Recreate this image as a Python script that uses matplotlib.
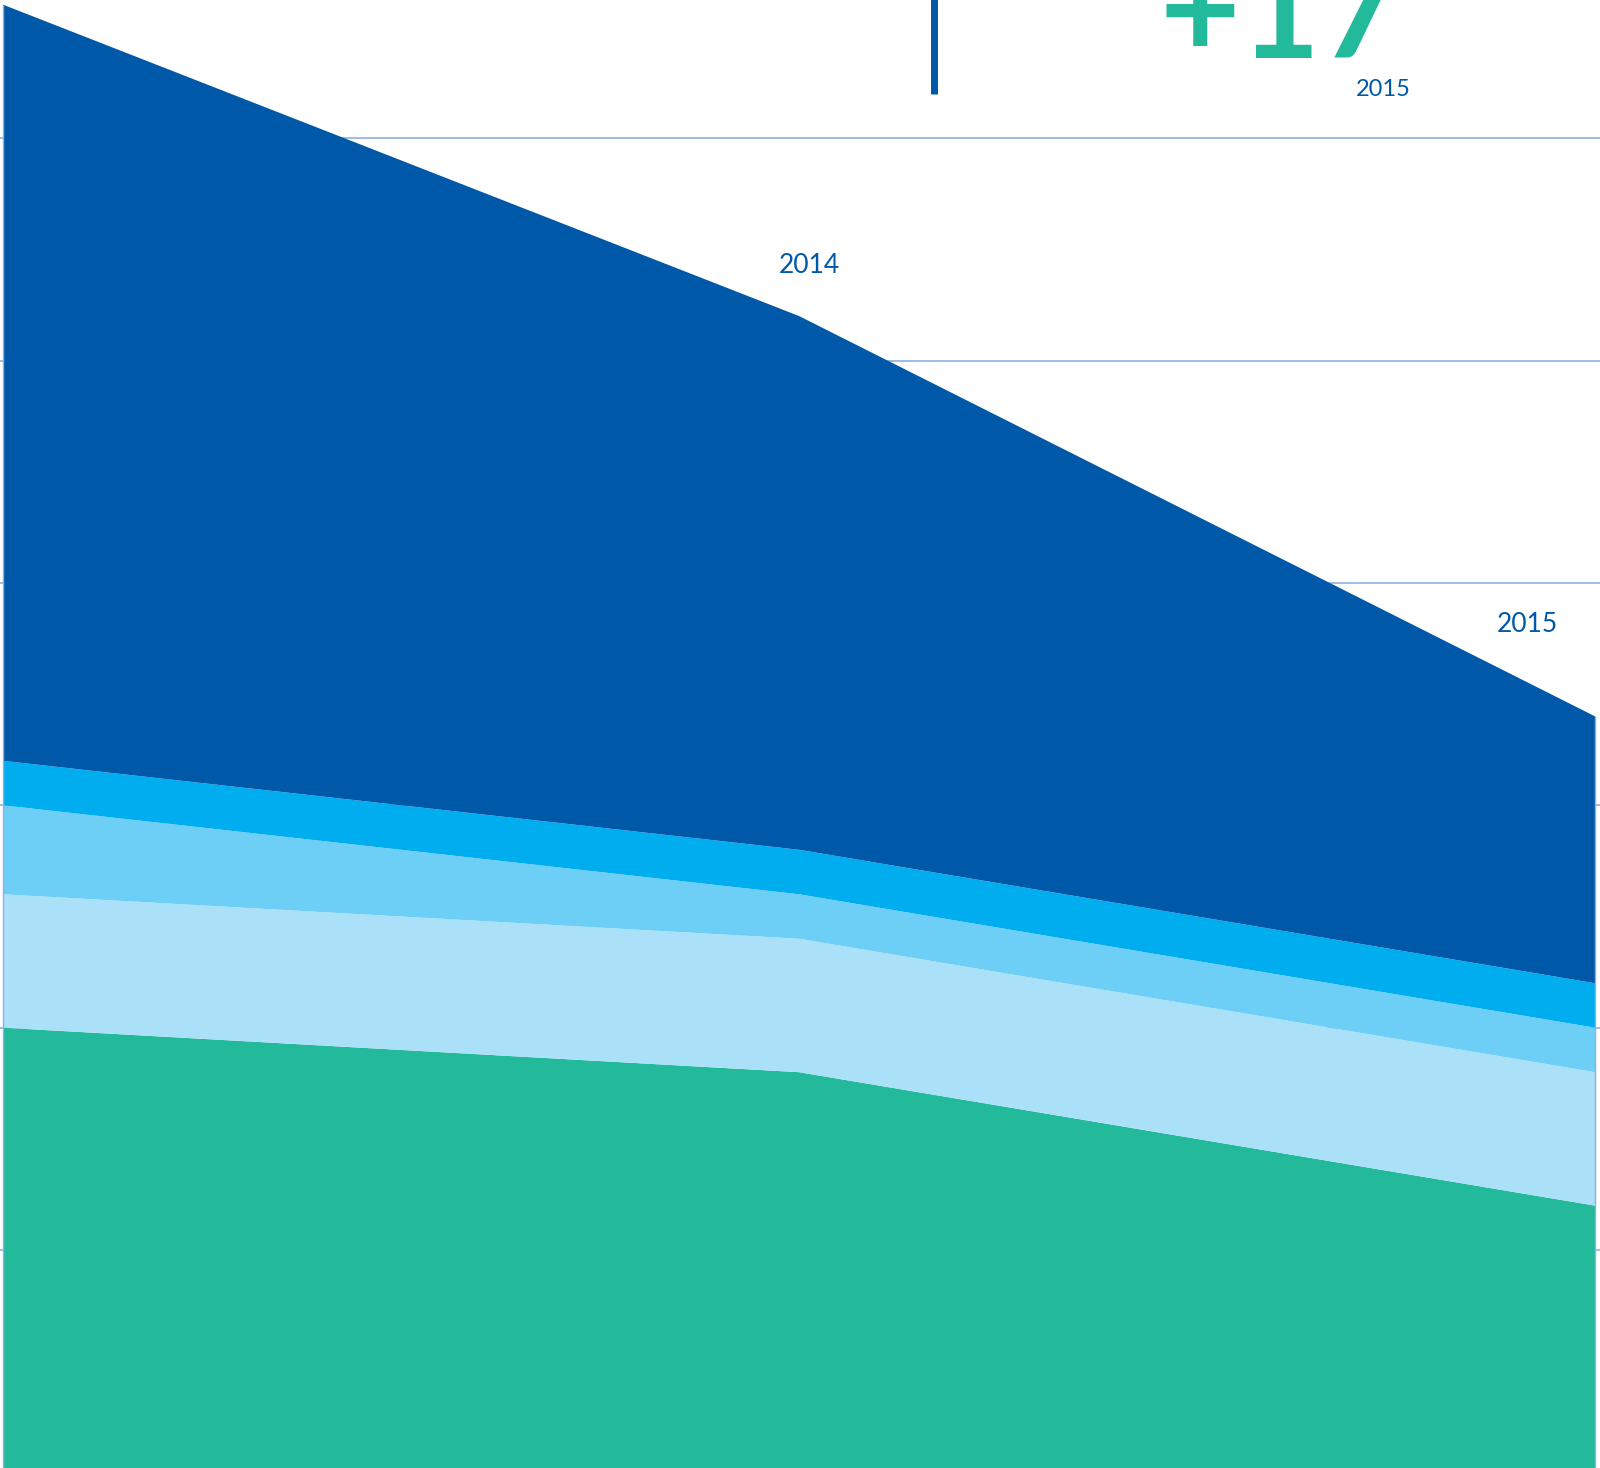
import matplotlib.pyplot as plt
from matplotlib.lines import Line2D
import numpy as np

years = [2013, 2014, 2015]
# stacked layers, bottom to top
green = [20, 18, 12]
light = [6, 6, 6]
medium = [4, 2, 2]
bright = [2, 2, 2]
dark = [34, 24, 12]
layer_colors = ['#23BA9B', '#ABE0F9', '#6DCFF6', '#00AEEF', '#0059A8']

year_labels = ['2014', '2015']
headline = '+17'
headline_year = '2015'

TEXT_BLUE = '#0059A8'
GRID = '#8DB2DD'

fig = plt.figure(figsize=(16, 14.68), dpi=100)
ax = fig.add_axes([0, 0, 1, 1])

ax.stackplot(years, green, light, medium, bright, dark, colors=layer_colors, zorder=2)

totals = np.sum([green, light, medium, bright, dark], axis=0)
ax.vlines([years[0], years[-1]], 0, [totals[0], totals[-1]], color=GRID, lw=1, zorder=3)

# px per year 796, zero at 1472.5 px, 22.24 px per unit
ax.set_xlim(2013 - 3 / 796, 2015 + 5 / 796)
ax.set_ylim((1472.5 - 1468) / 22.24, 1472.5 / 22.24)
ax.set_yticks([10, 20, 30, 40, 50, 60])
ax.yaxis.grid(True, color=GRID, lw=1.2, zorder=0)
ax.set_axisbelow(True)
ax.tick_params(left=False, bottom=False, labelleft=False, labelbottom=False)
for s in ax.spines.values():
    s.set_visible(False)

# year labels above the top edge
ax.text(2014.013, totals[1] + 2.27, year_labels[0], ha='center', va='center',
        fontsize=19, family='Lato', color=TEXT_BLUE)
ax.text(2014.915, totals[2] + 4.13, year_labels[1], ha='center', va='center',
        fontsize=19, family='Lato', color=TEXT_BLUE)

# headline block at the top
fig.add_artist(Line2D([934 / 1600, 934 / 1600], [1 - 94 / 1468, 1.01],
                      color=TEXT_BLUE, lw=5, solid_capstyle='butt'))
fig.text(0.8, 1 - 58 / 1468, headline, ha='center', va='baseline',
         fontsize=100, fontweight='bold', family='Lato', color='#23BA9B')
fig.text(1383 / 1600, 1 - 89 / 1468, headline_year, ha='center', va='center',
         fontsize=17, family='Lato', color=TEXT_BLUE)

fig.savefig('out.png', dpi=100)
